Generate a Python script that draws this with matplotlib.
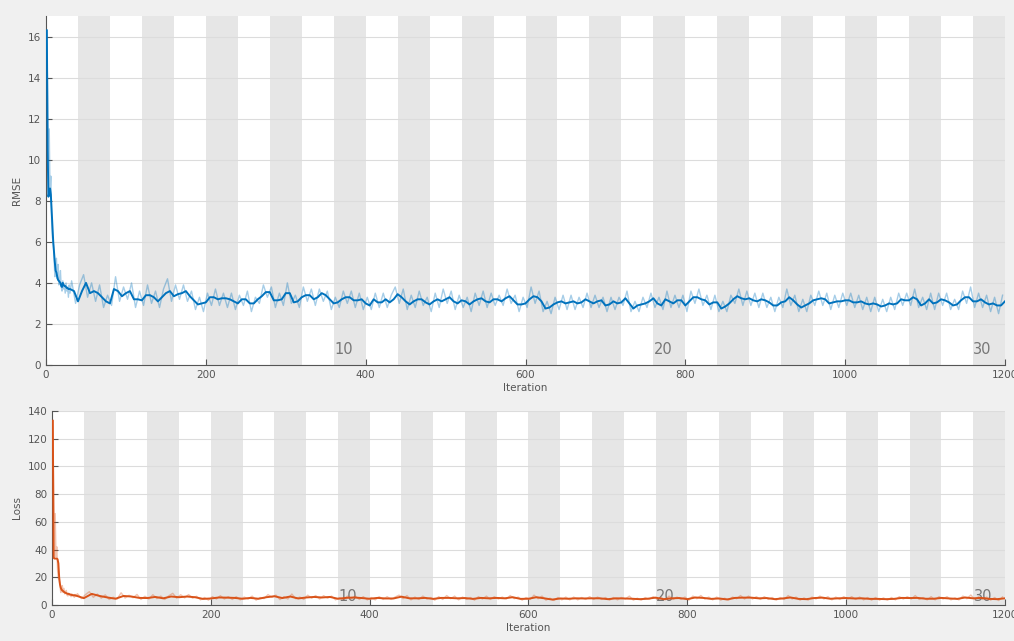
import numpy as np
import matplotlib
matplotlib.use("Agg")
import matplotlib.pyplot as plt
from matplotlib.transforms import blended_transform_factory

# ---- данные ----
n_iter = 1200
iter_per_epoch = 40
epoch_marks = [10, 20, 30]

# первые итерации (каждая итерация)
early_iter = list(range(1, 31))
early_rmse_raw = [16.3, 13.0, 8.2, 11.5, 8.4, 9.2, 7.0, 6.2, 6.0, 5.3,
                  4.3, 4.6, 5.2, 4.2, 4.9, 3.9, 4.1, 4.6, 3.8, 3.6,
                  4.1, 3.7, 3.9, 3.5, 4.0, 3.6, 3.8, 3.3, 3.9, 3.5]
early_rmse_smooth = [16.3, 10.5, 8.2, 8.4, 8.6, 8.3, 7.5, 6.6, 6.0, 5.5,
                     5.0, 4.6, 4.5, 4.3, 4.15, 4.1, 4.05, 4.0, 3.85, 3.8,
                     4.0, 3.9, 3.85, 3.85, 3.8, 3.75, 3.75, 3.7, 3.7, 3.7]
early_loss_raw = [133, 85, 34, 66, 35, 42, 25, 19, 18, 14,
                  9, 11, 14, 9, 12, 8, 8.5, 10.5, 7, 6.5,
                  8.5, 7, 7.6, 6, 8, 6.5, 7.2, 5.5, 7.6, 6.1]
early_loss_smooth = [133, 34, 33.5, 33.5, 33.5, 33.5, 33, 30, 20, 15,
                     12.5, 11, 10.5, 10, 9.5, 9, 8.8, 8.5, 8.2, 8,
                     8, 7.8, 7.5, 7.4, 7.2, 7.1, 7.0, 7.0, 6.9, 6.8]

# сырые значения: итерации 32, 37, ..., 1197
raw_iter = list(range(32, 1198, 5))
rmse_raw = [
    4.1, 3.0, 3.9, 4.4, 3.3, 4.0, 3.1, 3.9, 2.8, 3.4,
    2.9, 4.3, 3.1, 3.8, 3.2, 4.0, 2.8, 3.6, 2.9, 3.9,
    3.0, 3.6, 2.8, 3.7, 4.2, 3.1, 3.9, 3.2, 3.9, 3.1,
    3.6, 2.7, 3.3, 2.6, 3.5, 2.9, 3.7, 2.9, 3.5, 2.8,
    3.5, 2.7, 3.4, 2.9, 3.6, 2.6, 3.3, 3.0, 3.9, 3.3,
    3.8, 2.8, 3.5, 2.9, 4.0, 3.0, 3.4, 2.8, 3.8, 3.1,
    3.7, 2.9, 3.7, 3.1, 3.6, 2.7, 3.3, 2.8, 3.6, 3.0,
    3.6, 2.8, 3.5, 2.7, 3.3, 2.7, 3.5, 2.8, 3.5, 2.8,
    3.4, 3.8, 3.0, 3.7, 2.7, 3.4, 2.8, 3.6, 2.9, 3.3,
    2.6, 3.5, 2.8, 3.7, 3.0, 3.6, 2.7, 3.4, 2.8, 3.3,
    2.6, 3.5, 2.9, 3.6, 2.8, 3.5, 2.9, 3.4, 2.9, 3.7,
    3.0, 3.4, 2.6, 3.3, 2.8, 3.8, 3.0, 3.6, 2.6, 3.1,
    2.5, 3.3, 2.7, 3.4, 2.7, 3.4, 2.7, 3.3, 2.8, 3.5,
    2.8, 3.4, 2.8, 3.3, 2.6, 3.3, 2.7, 3.3, 2.9, 3.6,
    2.6, 3.1, 2.6, 3.3, 2.8, 3.5, 2.8, 3.3, 2.7, 3.6,
    2.8, 3.4, 2.8, 3.4, 2.6, 3.6, 3.0, 3.7, 2.9, 3.4,
    2.7, 3.4, 2.6, 3.1, 2.6, 3.4, 3.0, 3.7, 2.9, 3.6,
    2.9, 3.5, 2.8, 3.5, 2.8, 3.3, 2.6, 3.3, 2.8, 3.7,
    2.9, 3.4, 2.6, 3.2, 2.6, 3.4, 2.9, 3.6, 2.9, 3.5,
    2.7, 3.4, 2.8, 3.5, 2.9, 3.5, 2.8, 3.4, 2.7, 3.3,
    2.6, 3.3, 2.6, 3.2, 2.6, 3.3, 2.7, 3.5, 2.9, 3.5,
    2.9, 3.7, 2.8, 3.3, 2.7, 3.5, 2.7, 3.5, 2.9, 3.5,
    2.7, 3.2, 2.7, 3.6, 3.0, 3.8, 2.8, 3.5, 2.8, 3.4,
    2.6, 3.3, 2.5, 3.4,
]
loss_raw = [
    8.2, 4.6, 7.4, 9.6, 5.5, 7.9, 4.9, 7.3, 4.0, 5.6,
    4.3, 8.8, 5.0, 7.0, 5.2, 7.6, 4.0, 6.3, 4.3, 7.4,
    4.6, 6.4, 4.0, 6.6, 8.4, 4.9, 7.4, 5.1, 7.5, 4.9,
    6.3, 3.7, 5.4, 3.5, 6.0, 4.3, 6.7, 4.3, 6.0, 4.0,
    6.0, 3.7, 5.7, 4.3, 6.4, 3.5, 5.4, 4.6, 7.5, 5.5,
    7.1, 3.9, 6.0, 4.3, 7.9, 4.5, 5.7, 4.0, 7.1, 4.9,
    6.8, 4.3, 6.7, 4.9, 6.4, 3.7, 5.3, 4.0, 6.4, 4.5,
    6.4, 4.0, 6.0, 3.7, 5.4, 3.7, 6.0, 4.0, 6.0, 4.0,
    5.7, 7.1, 4.5, 6.8, 3.7, 5.7, 4.0, 6.4, 4.3, 5.4,
    3.5, 6.0, 4.0, 6.8, 4.5, 6.4, 3.7, 5.7, 4.0, 5.4,
    3.5, 6.0, 4.3, 6.4, 4.0, 6.0, 4.3, 5.7, 4.3, 6.8,
    4.5, 5.7, 3.5, 5.4, 4.0, 7.1, 4.5, 6.4, 3.5, 4.9,
    3.3, 5.4, 3.7, 5.7, 3.7, 5.7, 3.7, 5.4, 4.0, 6.0,
    4.0, 5.7, 4.0, 5.4, 3.5, 5.4, 3.7, 5.4, 4.3, 6.4,
    3.5, 4.9, 3.5, 5.4, 4.0, 6.0, 4.0, 5.4, 3.7, 6.4,
    4.0, 5.7, 4.0, 5.7, 3.5, 6.4, 4.5, 6.8, 4.3, 5.7,
    3.7, 5.7, 3.5, 4.9, 3.5, 5.7, 4.5, 6.8, 4.3, 6.4,
    4.3, 6.0, 4.0, 6.0, 4.0, 5.4, 3.5, 5.4, 4.0, 6.8,
    4.3, 5.7, 3.5, 5.1, 3.5, 5.7, 4.3, 6.4, 4.3, 6.0,
    3.7, 5.7, 4.0, 6.0, 4.3, 6.0, 4.0, 5.7, 3.7, 5.4,
    3.5, 5.4, 3.5, 5.1, 3.5, 5.4, 3.7, 6.0, 4.3, 6.0,
    4.3, 6.8, 4.0, 5.4, 3.7, 6.0, 3.7, 6.0, 4.3, 6.0,
    3.7, 5.1, 3.7, 6.4, 4.5, 7.2, 4.0, 6.0, 4.0, 5.7,
    3.5, 5.4, 3.2, 5.8,
]

# сглаженная RMSE: итерации 30, 35, ..., 1200
smooth_iter = list(range(30, 1201, 5))
rmse_smooth = [
    3.7, 3.6, 3.1, 3.6, 4.0, 3.5, 3.6, 3.5, 3.3, 3.1,
    3.0, 3.7, 3.6, 3.35, 3.5, 3.6, 3.2, 3.2, 3.15, 3.4,
    3.4, 3.3, 3.1, 3.3, 3.5, 3.6, 3.35, 3.45, 3.5, 3.6,
    3.35, 3.15, 2.95, 3.0, 3.05, 3.3, 3.3, 3.2, 3.25, 3.25,
    3.2, 3.1, 3.0, 3.2, 3.2, 3.0, 3.0, 3.2, 3.35, 3.55,
    3.55, 3.15, 3.15, 3.2, 3.5, 3.5, 3.05, 3.1, 3.3, 3.4,
    3.4, 3.2, 3.3, 3.5, 3.4, 3.2, 3.0, 3.05, 3.2, 3.3,
    3.3, 3.15, 3.15, 3.2, 3.0, 2.9, 3.2, 3.05, 3.05, 3.2,
    3.05, 3.2, 3.45, 3.3, 3.1, 2.95, 3.1, 3.2, 3.2, 3.05,
    2.95, 3.1, 3.2, 3.1, 3.2, 3.3, 3.1, 3.0, 3.15, 3.1,
    2.95, 3.1, 3.2, 3.25, 3.1, 3.05, 3.2, 3.2, 3.1, 3.25,
    3.35, 3.15, 2.95, 2.95, 3.0, 3.2, 3.35, 3.3, 3.1, 2.75,
    2.8, 2.95, 3.05, 3.1, 3.0, 3.05, 3.1, 3.0, 3.05, 3.2,
    3.1, 3.0, 3.1, 3.15, 2.9, 2.95, 3.1, 3.0, 3.05, 3.25,
    3.0, 2.75, 2.9, 2.95, 3.0, 3.1, 3.25, 3.0, 2.9, 3.2,
    3.1, 3.0, 3.15, 3.15, 2.9, 3.1, 3.3, 3.3, 3.2, 3.15,
    2.95, 3.05, 3.05, 2.75, 2.85, 3.0, 3.2, 3.35, 3.25, 3.2,
    3.25, 3.15, 3.1, 3.2, 3.15, 3.05, 2.9, 2.9, 3.05, 3.1,
    3.3, 3.15, 2.95, 2.8, 2.9, 3.0, 3.15, 3.2, 3.25, 3.2,
    3.0, 3.05, 3.1, 3.1, 3.15, 3.15, 3.05, 3.05, 3.1, 3.0,
    2.95, 3.0, 2.95, 2.85, 2.9, 3.0, 2.95, 3.0, 3.2, 3.15,
    3.15, 3.3, 3.2, 2.9, 3.0, 3.2, 3.0, 3.05, 3.2, 3.15,
    3.05, 2.9, 2.95, 3.15, 3.3, 3.3, 3.1, 3.1, 3.2, 3.05,
    2.95, 3.0, 2.9, 2.9, 3.1,
]

# сглаженный Loss: итерации 30, 40, ..., 1200
loss_smooth_iter = list(range(30, 1201, 10))
loss_smooth = [
    6.8, 4.9, 8.0, 6.5, 5.4, 4.5, 6.5, 6.1, 5.1, 5.0,
    5.8, 4.8, 6.1, 5.6, 6.1, 5.6, 4.4, 4.7, 5.4, 5.3,
    5.1, 4.5, 5.1, 4.5, 5.6, 6.3, 5.0, 6.1, 4.7, 5.4,
    5.8, 5.4, 5.8, 4.5, 5.1, 5.4, 5.0, 4.5, 5.1, 4.7,
    4.7, 6.0, 4.8, 4.8, 5.1, 4.4, 5.1, 5.1, 4.8, 5.0,
    4.4, 5.1, 4.8, 5.1, 4.8, 5.6, 4.4, 4.5, 5.6, 4.8,
    3.9, 4.7, 4.5, 4.8, 4.7, 4.8, 4.8, 4.2, 4.8, 4.7,
    4.5, 4.2, 4.5, 5.3, 4.2, 4.8, 5.0, 4.2, 5.4, 5.1,
    4.4, 4.7, 4.0, 5.1, 5.3, 5.3, 4.8, 5.0, 4.2, 4.7,
    5.4, 4.4, 4.2, 5.0, 5.3, 4.5, 4.8, 5.0, 4.7, 4.8,
    4.4, 4.4, 4.2, 4.4, 5.1, 5.0, 5.1, 4.5, 4.5, 5.1,
    4.7, 4.4, 5.4, 4.8, 5.1, 4.4, 4.2, 4.8,
]

blue = "#0072BD"
orange = "#D95319"
band_color = "#e6e6e6"
text_gray = "#555555"


def style_axes(ax, ymax, yticks, ylabel):
    ax.set_facecolor("white")
    ax.set_xlim(0, n_iter)
    ax.set_ylim(0, ymax)
    ax.set_xticks(range(0, n_iter + 1, 200))
    ax.set_yticks(yticks)
    # чередующиеся полосы эпох
    for ep in range(1, n_iter // iter_per_epoch, 2):
        ax.axvspan(ep * iter_per_epoch, (ep + 1) * iter_per_epoch,
                   color=band_color, lw=0, zorder=0)
    ax.set_axisbelow(True)
    ax.grid(True, axis="y", color="#dcdcdc", lw=0.8)
    ax.spines["top"].set_visible(False)
    ax.spines["right"].set_visible(False)
    for s in ("left", "bottom"):
        ax.spines[s].set_color("#555555")
        ax.spines[s].set_linewidth(0.8)
    ax.tick_params(direction="in", length=4, width=0.8, colors="#555555",
                   labelsize=7.5, labelcolor=text_gray)
    ax.set_xlabel("Iteration", fontsize=7.5, color=text_gray, labelpad=2)
    ax.set_ylabel(ylabel, fontsize=7.5, color=text_gray, labelpad=4)
    trans = blended_transform_factory(ax.transData, ax.transAxes)
    for e in epoch_marks:
        ax.text(e * iter_per_epoch - 28, 0.043, str(e), transform=trans,
                ha="center", va="center", fontsize=10.5, color="#777777",
                zorder=1)


fig = plt.figure(figsize=(10.14, 6.41), dpi=100, facecolor="#f0f0f0")
ax1 = fig.add_axes([0.0454, 0.4306, 0.9457, 0.5444])
ax2 = fig.add_axes([0.0513, 0.0562, 0.9398, 0.3026])

style_axes(ax1, 17, range(0, 17, 2), "RMSE")
ax1.plot(early_iter + raw_iter, early_rmse_raw + rmse_raw,
         color=blue, alpha=0.35, lw=1.0, zorder=2)
ax1.plot(early_iter + smooth_iter, early_rmse_smooth + rmse_smooth,
         color=blue, lw=1.4, zorder=3)

style_axes(ax2, 140, range(0, 141, 20), "Loss")
ax2.plot(early_iter + raw_iter, early_loss_raw + loss_raw,
         color=orange, alpha=0.35, lw=1.0, zorder=2)
ax2.plot(early_iter + loss_smooth_iter, early_loss_smooth + loss_smooth,
         color=orange, lw=1.4, zorder=3)

fig.savefig("out.png", dpi=100, facecolor=fig.get_facecolor())
